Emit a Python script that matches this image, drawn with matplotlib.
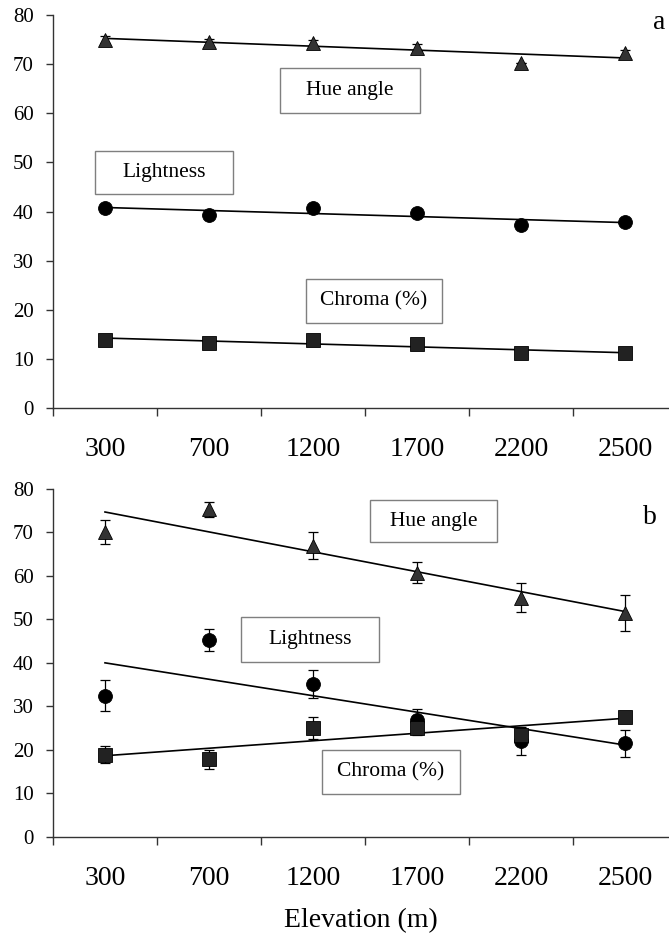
import numpy as np
import matplotlib
matplotlib.use('Agg')
import matplotlib.pyplot as plt
from matplotlib.patches import Rectangle

plt.rcParams['font.family'] = ['Liberation Serif', 'DejaVu Serif']

elevation = ['300', '700', '1200', '1700', '2200', '2500']

# panel a
hue_a = [75.0, 74.5, 74.3, 73.3, 70.2, 72.2]
hue_a_err = [0.7, 0.7, 0.7, 0.7, 0.0, 0.7]
light_a = [40.7, 39.3, 40.8, 39.8, 37.3, 37.8]
chroma_a = [13.9, 13.3, 13.9, 13.0, 11.3, 11.1]

# panel b
hue_b = [70.1, 75.3, 67.0, 60.7, 55.0, 51.5]
hue_b_err = [2.7, 1.8, 3.2, 2.4, 3.3, 4.2]
light_b = [32.5, 45.2, 35.2, 27.0, 22.0, 21.6]
light_b_err = [3.5, 2.5, 3.2, 2.5, 3.2, 3.1]
chroma_b = [18.9, 17.9, 25.0, 25.0, 23.5, 27.6]
chroma_b_err = [2.0, 2.2, 2.5, 1.5, 1.5, 1.0]

x = np.arange(len(elevation))

fig = plt.figure(figsize=(6.69, 9.38), dpi=100)
ax_a = fig.add_axes([0.0792, 0.565, 0.9208, 0.419])
ax_b = fig.add_axes([0.0792, 0.1077, 0.9208, 0.371])


def series(ax, y, err, marker, color, ms):
    # linear trend through the means, then error bars and markers on top
    coef = np.polyfit(x, y, 1)
    ax.plot(x, np.polyval(coef, x), color='black', lw=1.2, zorder=2)
    if err is not None:
        ax.errorbar(x, y, yerr=err, fmt='none', ecolor='black', elinewidth=0.9,
                    capsize=3.5, capthick=0.9, zorder=3)
    ax.plot(x, y, linestyle='none', marker=marker, color=color, mec='black',
            mew=0.6, ms=ms, zorder=4)


def label_box(ax, x0, x1, y0, y1, text):
    ax.add_patch(Rectangle((x0, y0), x1 - x0, y1 - y0, facecolor='white',
                           edgecolor='#7f7f7f', lw=1.0, zorder=5))
    ax.text((x0 + x1) / 2, (y0 + y1) / 2, text, ha='center', va='center',
            fontsize=15.5, zorder=6)


def style(ax):
    ax.set_xlim(-0.5, 5.423)
    ax.set_ylim(0, 80)
    ax.set_yticks(range(0, 81, 10))
    ax.set_xticks(np.arange(-0.5, 5, 1))
    ax.set_xticklabels([])
    ax.set_xticks(x, minor=True)
    ax.set_xticklabels(elevation, minor=True, fontsize=20)
    ax.tick_params(axis='x', which='major', direction='out', length=6,
                   width=1.0, color='#333333')
    ax.tick_params(axis='x', which='minor', length=0, pad=21)
    ax.tick_params(axis='y', direction='out', length=5, width=1.0,
                   color='#333333', labelsize=15, pad=9)
    for s in ['top', 'right']:
        ax.spines[s].set_visible(False)
    for s in ['left', 'bottom']:
        ax.spines[s].set_color('#333333')
        ax.spines[s].set_linewidth(1.0)


series(ax_a, hue_a, hue_a_err, '^', '#333333', 10)
series(ax_a, light_a, None, 'o', 'black', 10)
series(ax_a, chroma_a, None, 's', '#222222', 9.5)
style(ax_a)
label_box(ax_a, 1.68, 3.03, 60.0, 69.2, 'Hue angle')
label_box(ax_a, -0.10, 1.23, 43.6, 52.3, 'Lightness')
label_box(ax_a, 1.93, 3.24, 17.3, 26.3, 'Chroma (%)')
ax_a.text(5.33, 78.5, 'a', fontsize=20, ha='center', va='center')

series(ax_b, hue_b, hue_b_err, '^', '#333333', 10)
series(ax_b, light_b, light_b_err, 'o', 'black', 10)
series(ax_b, chroma_b, chroma_b_err, 's', '#222222', 9.5)
style(ax_b)
label_box(ax_b, 2.55, 3.77, 67.7, 77.4, 'Hue angle')
label_box(ax_b, 1.31, 2.63, 40.3, 50.5, 'Lightness')
label_box(ax_b, 2.09, 3.41, 9.9, 20.0, 'Chroma (%)')
ax_b.text(5.24, 73.5, 'b', fontsize=20, ha='center', va='center')
ax_b.set_xlabel('Elevation (m)', fontsize=20, labelpad=12)

fig.savefig('out.png', dpi=100)
